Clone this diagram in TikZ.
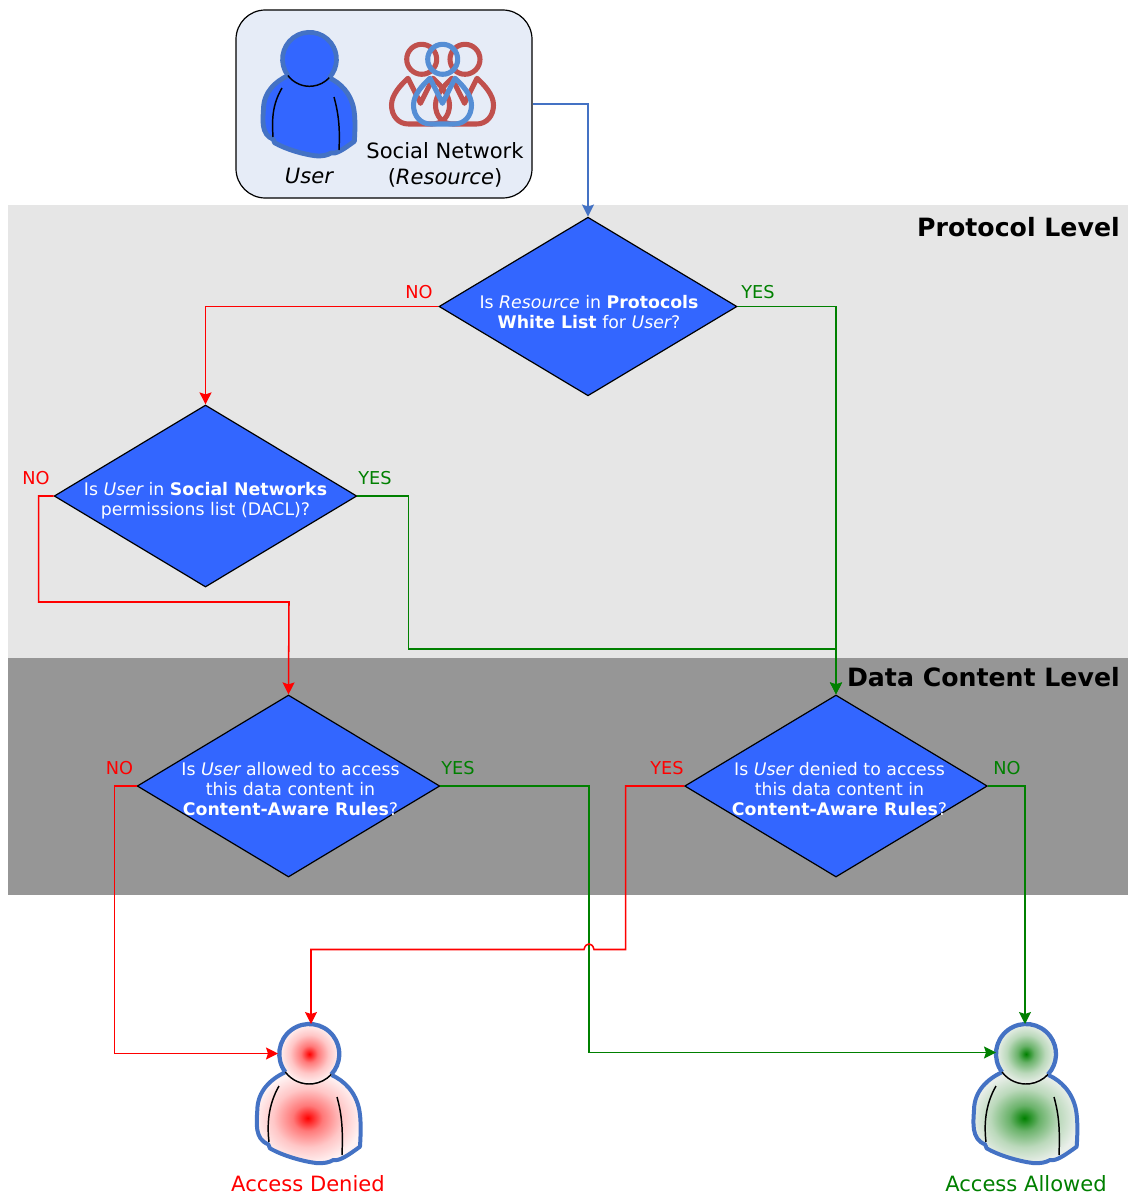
\documentclass[tikz,border=0pt]{standalone}
\usepackage{fontspec}
\setmainfont{DejaVu Sans}
\usetikzlibrary{shapes.geometric,arrows.meta,calc}
\definecolor{band1}{HTML}{E6E6E6}
\definecolor{band2}{HTML}{969696}
\definecolor{dblue}{HTML}{3366FF}
\definecolor{okgreen}{HTML}{008000}
\definecolor{outl}{HTML}{4472C4}
\definecolor{sred}{HTML}{C0504D}
\definecolor{sblue}{HTML}{558ED5}
\definecolor{boxfill}{HTML}{E6ECF7}
\definecolor{okout}{HTML}{EAEFEA}
\definecolor{redout}{HTML}{FFF2F2}
\pgfdeclareradialshading{redglow}{\pgfpointorigin}{color(0bp)=(red); color(7bp)=(red!50!redout); color(16bp)=(red!18!redout); color(25bp)=(redout); color(50bp)=(redout)}
\pgfdeclareradialshading{greenglow}{\pgfpointorigin}{color(0bp)=(okgreen); color(7bp)=(okgreen!55!okout); color(16bp)=(okgreen!20!okout); color(25bp)=(okout); color(50bp)=(okout)}
\tikzset{
 x=0.75pt,y=-0.75pt,
 decision/.style={diamond,draw=black,line width=0.9pt,fill=dblue,inner sep=0pt,minimum width=#1},
 lab/.style={font=\fontsize{13.3}{15}\selectfont,inner sep=0pt,anchor=center},
 dtext/.style={font=\fontsize{13}{15}\selectfont,text=white,align=center,inner sep=0pt},
 nolab/.style={lab,text=red},
 yeslab/.style={lab,text=okgreen},
 title/.style={font=\fontsize{18.9}{22}\bfseries\selectfont,text=black,inner sep=0pt,anchor=east},
 caption/.style={font=\fontsize{15.8}{19}\selectfont,inner sep=0pt},
 conn/.style={line width=1.15pt,-{Stealth[length=9pt,width=9pt,inset=1.5pt]}},
 noline/.style={conn,red},
 yesline/.style={conn,okgreen},
 bluline/.style={conn,outl},
 neck/.style={black,line width=1.1pt},
}
\newcommand{\bodypath}{(-73,55) .. controls (-115,75) and (-155,110) .. (-156,168)
 .. controls (-158,205) and (-165,255) .. (-123,271) -- (-118,283)
 .. controls (-80,305) and (-20,322) .. (20,327)
 .. controls (45,329) and (60,325) .. (72,318)
 .. controls (90,322) and (115,305) .. (152,278)
 .. controls (155,235) and (155,195) .. (150,168)
 .. controls (140,115) and (105,80) .. (67,63)}
\newcommand{\mbody}[1]{(#1,103.3) -- (#1-12.5,78.3) .. controls (#1-20,85) and (#1-29,95) .. (#1-29,105)
 .. controls (#1-29,116) and (#1-22,124) .. (#1-12,124) -- (#1+12,124)
 .. controls (#1+22,124) and (#1+29,116) .. (#1+29,105)
 .. controls (#1+29,95) and (#1+20,85) .. (#1+12.5,78.3) -- cycle}
\begin{document}
\begin{tikzpicture}
\useasboundingbox (0,0) rectangle (1128,1196);
\fill[white] (0,0) rectangle (1128,1196);
\fill[band1] (8,205) rectangle (1128,658);
\fill[band2] (8,658) rectangle (1128,895);
\node[title] (t1) at (1120,227) {Protocol Level};
\node[title] (t2) at (1120,677) {Data Content Level};

% source box
\node[draw=black,line width=0.9pt,fill=boxfill,rounded corners=22pt,minimum width=222pt,minimum height=141pt,inner sep=0pt] (box) at (384,104) {};

% user figure
\begin{scope}[shift={(309.5,59.3)},x=0.2213pt,y=-0.2213pt]
 \filldraw[draw=outl,line width=3.6pt,fill=dblue,line join=round] \bodypath;
\end{scope}
\node[circle,fill=dblue,minimum size=40.5pt,inner sep=0pt] (userhead) at (309.5,59.3) {};
\draw[outl,line width=3.5pt] (userhead.center) ++(143:27) arc[start angle=143,end angle=403,radius=27];
\draw[neck] (userhead.center) ++(143:27) arc[start angle=143,end angle=43,radius=27];
\draw[neck] (282,88) .. controls (272,105) and (272,120) .. (273,137);
\draw[neck] (334,97) .. controls (339,115) and (340,130) .. (339,150);
\node[lab,font=\fontsize{15.8}{19}\itshape\selectfont] (usercap) at (309,176) {User};

% social network icon
\begin{scope}[line width=3.8pt,line join=round]
 \draw[sred] (421.7,59.3) circle[radius=15];
 \draw[sred] (465,59.3) circle[radius=15];
 \draw[sred] \mbody{420.5};
 \draw[sred] \mbody{464.5};
 \draw[sblue] (442.7,59.3) circle[radius=15];
 \draw[sblue] \mbody{442.5};
\end{scope}
\node[align=center,inner sep=0pt,font=\fontsize{15.8}{19.5}\selectfont] (socialcap) at (445,165) {Social Network\\({\itshape Resource})};

% decisions
\node[decision=223.5pt,minimum height=134pt,aspect=1.66] (d1) at (588,306.5) {};
\node[decision=227pt,minimum height=136.5pt,aspect=1.66] (d2) at (205.5,496) {};
\node[decision=227pt,minimum height=136.5pt,aspect=1.66] (d3) at (288.5,786) {};
\node[decision=227pt,minimum height=136.5pt,aspect=1.66] (d4) at (836,786) {};
\node[dtext] (d1t) at (589,312) {Is {\itshape Resource} in {\bfseries Protocols}\\{\bfseries White List} for {\itshape User}?};
\node[dtext] (d2t) at (205.5,500.5) {Is {\itshape User} in {\bfseries Social Networks}\\permissions list (DACL)?};
\node[dtext] (d3t) at (290.5,789.5) {Is {\itshape User} allowed to access\\this data content in\\{\bfseries Content-Aware Rules}?};
\node[dtext] (d4t) at (839.5,789.5) {Is {\itshape User} denied to access\\this data content in\\{\bfseries Content-Aware Rules}?};

% denied figure
\begin{scope}[shift={(309.3,1054)},x=0.25pt,y=-0.25pt]
 \draw[outl,line width=3pt,line join=round,shading=redglow] \bodypath;
\end{scope}
\node[circle,shading=redglow,minimum size=45pt,inner sep=0pt] (denied) at (309.3,1054) {};
\draw[outl,line width=3.2pt] (denied.center) ++(143:30) arc[start angle=143,end angle=403,radius=30];
\draw[neck] (denied.center) ++(143:30) arc[start angle=143,end angle=43,radius=30];
\draw[neck] (279,1086) .. controls (268,1105) and (267,1125) .. (269,1142);
\draw[neck] (337,1097) .. controls (342,1115) and (343,1130) .. (342,1155);
\node[caption,text=red] (deniedcap) at (308,1184) {Access Denied};

% allowed figure
\begin{scope}[shift={(1026,1054)},x=0.25pt,y=-0.25pt]
 \draw[outl,line width=3pt,line join=round,shading=greenglow] \bodypath;
\end{scope}
\node[circle,shading=greenglow,minimum size=45pt,inner sep=0pt] (allowed) at (1026,1054) {};
\draw[outl,line width=3.2pt] (allowed.center) ++(143:30) arc[start angle=143,end angle=403,radius=30];
\draw[neck] (allowed.center) ++(143:30) arc[start angle=143,end angle=43,radius=30];
\draw[neck] (996,1086) .. controls (985,1105) and (984,1125) .. (986,1142);
\draw[neck] (1054,1097) .. controls (1059,1115) and (1060,1130) .. (1059,1155);
\node[caption,text=okgreen] (allowedcap) at (1026,1184) {Access Allowed};

% connector free ends
\coordinate (deniedtop) at (311,1024);
\coordinate (deniedleft) at (278,1053.5);
\coordinate (allowedtop) at (1025,1024);
\coordinate (allowedleft) at (996,1052.5);
\coordinate (hopr) at (594,949.5);
\coordinate (hopl) at (584,949.5);

% connectors
\draw[bluline] (box.east) -| (d1.north);
\draw[noline] (d1.west) -| (d2.north);
\draw[yesline] (d1.east) -| (d4.north);
\draw[noline] (d2.west) -- ++(-15,0) |- (289,602) -- (d3.north);
\draw[yesline] (d2.east) -- ++(51,0) |- (836,649) -- (d4.north);
\draw[noline] (d3.west) -- ++(-22,0) |- (deniedleft);
\draw[yesline] (d3.east) -| (589,1052.5) -- (allowedleft);
\draw[noline] (d4.west) -- ++(-58.5,0) |- (hopr) .. controls (592.5,942) and (585.5,942) .. (hopl) -| (deniedtop);
\draw[yesline] (d4.east) -| (allowedtop);

% branch labels
\node[nolab] (l1) at (419,292) {NO};
\node[yeslab] (l2) at (758,292) {YES};
\node[nolab] (l3) at (36,478) {NO};
\node[yeslab] (l4) at (375,478) {YES};
\node[nolab] (l5) at (119.5,768) {NO};
\node[yeslab] (l6) at (458,768) {YES};
\node[nolab] (l7) at (667,768) {YES};
\node[yeslab] (l8) at (1007,768) {NO};
\end{tikzpicture}
\end{document}
